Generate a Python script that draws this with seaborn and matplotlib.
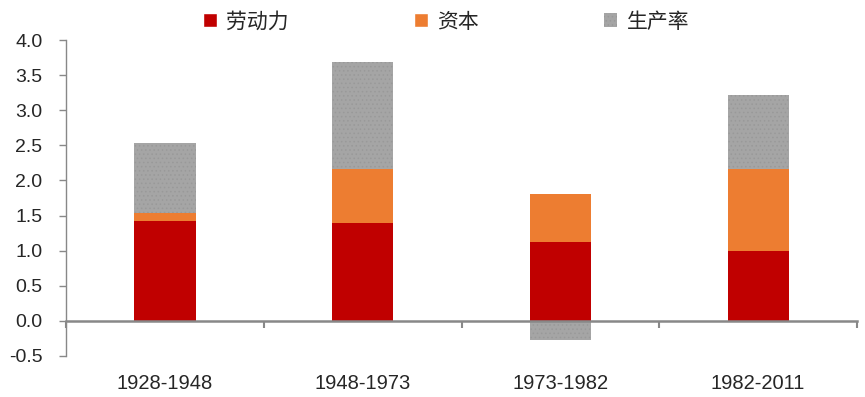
import numpy as np
import pandas as pd
import matplotlib
matplotlib.use("Agg")
import matplotlib.pyplot as plt
import seaborn as sns
from matplotlib.patches import Patch

# data
periods = ['1928-1948', '1948-1973', '1973-1982', '1982-2011']
labor = np.array([1.42, 1.40, 1.13, 0.99])
capital = np.array([0.12, 0.76, 0.68, 1.17])
productivity = np.array([1.00, 1.53, -0.27, 1.06])
series_names = ['劳动力', '资本', '生产率']
colors = ['#C00000', '#ED7D31', '#A5A5A5']

sns.set_style("white")
plt.rcParams['font.family'] = ['Liberation Sans', 'Noto Sans CJK SC', 'DejaVu Sans']
plt.rcParams['hatch.linewidth'] = 0.6

fig = plt.figure(figsize=(8.65, 3.97), dpi=100)
ax = fig.add_axes([0.0763, 0.1033, 0.9145, 0.7959])

# stacked by overlapping bars, tallest first
lab_cap = labor + capital
pos_total = lab_cap + np.clip(productivity, 0, None)
neg_prod = np.clip(productivity, None, 0)
bw = 0.31
sns.barplot(x=periods, y=pos_total, color=colors[2], width=bw, ax=ax,
            saturation=1, hatch='....', edgecolor='#999999', linewidth=0)
sns.barplot(x=periods, y=lab_cap, color=colors[1], width=bw, ax=ax, saturation=1, linewidth=0)
sns.barplot(x=periods, y=labor, color=colors[0], width=bw, ax=ax, saturation=1, linewidth=0)
sns.barplot(x=periods, y=neg_prod, color=colors[2], width=bw, ax=ax,
            saturation=1, hatch='....', edgecolor='#999999', linewidth=0)

ax.set_xlim(-0.5, 3.5)
ax.set_ylim(-0.5, 4.0)
ax.set_yticks(np.arange(-0.5, 4.01, 0.5))
ax.set_yticklabels([f'{v:.1f}' for v in np.arange(-0.5, 4.01, 0.5)], fontsize=14)
ax.tick_params(axis='y', direction='out', length=5, width=1, color='#888888', left=True, pad=12)
ax.tick_params(axis='x', length=0, labelsize=14.5, pad=13)
ax.set_xlabel('')
ax.set_ylabel('')
for s in ['top', 'right', 'bottom']:
    ax.spines[s].set_visible(False)
ax.spines['left'].set_color('#888888')
ax.spines['left'].set_linewidth(1)

# zero axis line with category boundary ticks
zero_loc = 0.5 / 4.5
sec = ax.secondary_xaxis(zero_loc)
sec.set_xticks(np.arange(-0.5, 3.51, 1.0))
sec.set_xticklabels([])
sec.tick_params(direction='out', length=5, width=1.5, color='#888888')
sec.spines['bottom'].set_color('#888888')
sec.spines['bottom'].set_linewidth(1.8)
sec.set_zorder(5)

handles = [Patch(facecolor=colors[0]), Patch(facecolor=colors[1]),
           Patch(facecolor=colors[2], hatch='....', edgecolor='#999999', linewidth=0)]
fig.legend(handles, series_names, loc='center', bbox_to_anchor=(0.516, 0.945), ncol=3,
           frameon=False, fontsize=15, handlelength=0.65, handleheight=0.65,
           handletextpad=0.45, columnspacing=6.0)

fig.savefig('out.png', dpi=100)
